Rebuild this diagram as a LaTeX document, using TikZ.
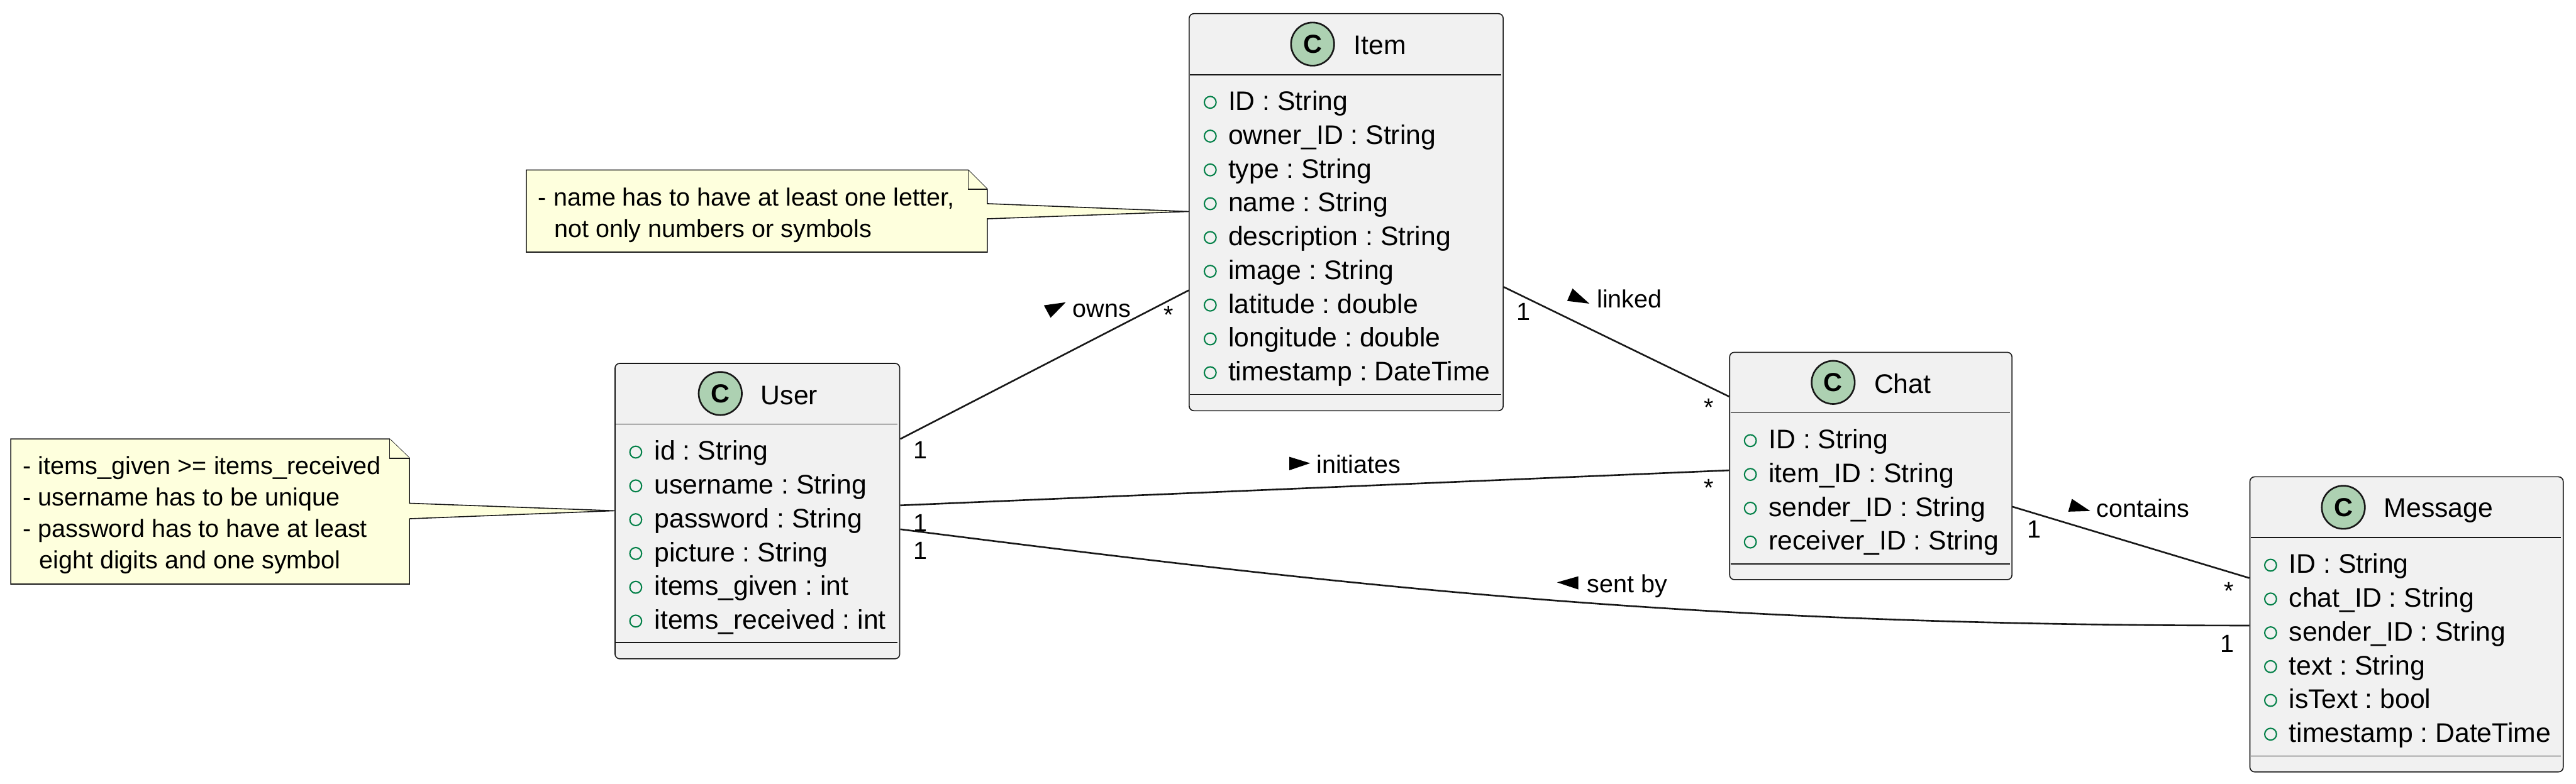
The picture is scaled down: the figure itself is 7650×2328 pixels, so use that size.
\documentclass[tikz,border=0pt]{standalone}
\usepackage{fontspec}
\setmainfont{Liberation Sans}
\definecolor{boxfill}{HTML}{F1F1F1}
\definecolor{ink}{HTML}{181818}
\definecolor{notefill}{HTML}{FEFFDD}
\definecolor{spotfill}{HTML}{ADD1B2}
\definecolor{attrgreen}{HTML}{038048}
\newcommand{\attrfont}{\frenchspacing\fontsize{22.7}{27}\selectfont}
\newcommand{\labelfont}{\frenchspacing\fontsize{21}{25}\selectfont}
\tikzset{
  classbox/.style={draw=ink,fill=boxfill,line width=0.85pt,rounded corners=0.14cm,anchor=north west,inner sep=0pt},
  sepline/.style={draw=ink,line width=0.8pt},
  spot/.style={circle,draw=ink,fill=spotfill,line width=1.4pt,minimum size=1.28cm,inner sep=0pt,font=\bfseries\fontsize{22}{26}\selectfont},
  titletext/.style={anchor=base west,inner sep=0pt,font=\attrfont},
  attrdot/.style={circle,draw=attrgreen,line width=1.1pt,minimum size=0.35cm,inner sep=0pt},
  attrtext/.style={anchor=base west,inner sep=0pt,font=\attrfont},
  notetext/.style={anchor=base west,inner sep=0pt,font=\labelfont},
  lbl/.style={anchor=base west,inner sep=0pt,font=\labelfont},
  multi/.style={anchor=base,inner sep=0pt,font=\labelfont},
  notebody/.style={draw=ink,fill=notefill,line width=0.85pt,line join=miter},
  conn/.style={draw=ink,line width=1.4pt},
  dirmark/.style={fill=black,draw=none}
}
\newcommand{\attrlist}[5]{%
  \foreach \t [count=\i from 0] in {#5}{%
    \pgfmathsetmacro\by{#4+100.4*\i}
    \node[attrdot] (#1d\i) at (#2,\by-22) {};
    \node[attrtext] (#1t\i) at (#3,\by+2) {\t};
  }}
\begin{document}
\begin{tikzpicture}[x=0.01cm,y=-0.01cm]
\useasboundingbox (0,0) rectangle (7650,2328);

% classes
\node[classbox,minimum width=8.45cm,minimum height=8.77cm] (user) at (1825,1078) {};
\draw[sepline] (1829,1260) -- (2666,1260);
\draw[sepline] (1829,1909) -- (2666,1909);
\node[spot] (userC) at (2139,1169) {C};
\node[titletext] (userT) at (2259,1201) {User};
\attrlist{user}{1888}{1943}{1365}{id : String,username : String,password : String,picture : String,items\_given : int,items\_received : int}

\node[classbox,minimum width=9.32cm,minimum height=11.79cm] (item) at (3530,39) {};
\draw[sepline] (3534,222) -- (4458,222);
\draw[sepline] (3534,1172) -- (4458,1172);
\node[spot] (itemC) at (3898,131) {C};
\node[titletext] (itemT) at (4020,162) {Item};
\attrlist{item}{3594}{3647}{326}{ID : String,owner\_ID : String,type : String,name : String,description : String,image : String,latitude : double,longitude : double,timestamp : DateTime}

\node[classbox,minimum width=8.38cm,minimum height=6.75cm] (chat) at (5135,1045) {};
\draw[sepline] (5139,1226) -- (5969,1226);
\draw[sepline] (5139,1675) -- (5969,1675);
\node[spot] (chatC) at (5444,1136) {C};
\node[titletext] (chatT) at (5565,1168) {Chat};
\attrlist{chat}{5198}{5252}{1331}{ID : String,item\_ID : String,sender\_ID : String,receiver\_ID : String}

\node[classbox,minimum width=9.30cm,minimum height=8.76cm] (message) at (6680,1415) {};
\draw[sepline] (6684,1597) -- (7606,1597);
\draw[sepline] (6684,2246) -- (7606,2246);
\node[spot] (messageC) at (6959,1507) {C};
\node[titletext] (messageT) at (7079,1537) {Message};
\attrlist{message}{6743}{6797}{1701}{ID : String,chat\_ID : String,sender\_ID : String,text : String,isText : bool,timestamp : DateTime}

% notes
\draw[notebody] (32,1304) -- (1157,1304) -- (1216,1361) -- (1216,1495)
  -- ([yshift=-4.39cm]user.north west) -- (1216,1541) -- (1216,1735) -- (32,1735) -- cycle;
\draw[notebody] (1157,1304) -- (1157,1361) -- (1216,1361);
\node[notetext] (un1) at (68,1410) {- items\_given >= items\_received};
\node[notetext] (un2) at (68,1503) {- username has to be unique};
\node[notetext] (un3) at (68,1596) {- password has to have at least};
\node[notetext] (un4) at (116,1689) {eight digits and one symbol};

\draw[notebody] (1563,505) -- (2875,505) -- (2932,562) -- (2932,605)
  -- ([yshift=-5.89cm]item.north west) -- (2932,650) -- (2932,749) -- (1563,749) -- cycle;
\draw[notebody] (2875,505) -- (2875,562) -- (2932,562);
\node[notetext] (in1) at (1598,611) {- name has to have at least one letter,};
\node[notetext] (in2) at (1645,705) {not only numbers or symbols};

% connectors
\draw[conn] ([yshift=-2.26cm]user.north east) -- ([yshift=-8.23cm]item.north west);
\draw[conn] ([yshift=-8.13cm]item.north east) -- ([yshift=-1.33cm]chat.north west);
\draw[conn] ([yshift=-4.23cm]user.north east) -- ([yshift=-3.52cm]chat.north west);
\draw[conn] ([yshift=-4.60cm]chat.north east) -- ([yshift=-3.02cm]message.north west);
\draw[conn] ([yshift=-4.94cm]user.north east) .. controls (4000,1740) and (5000,1858) .. ([yshift=-4.43cm]message.north west);

% direction marks and labels
\fill[dirmark] (3100,907) -- (3165,898) -- (3120,944) -- cycle;
\node[lbl] (owns) at (3185,942) {owns};
\fill[dirmark] (4654,894) -- (4670,857) -- (4720,902) -- cycle;
\node[lbl] (linked) at (4742,915) {linked};
\fill[dirmark] (3829,1357) -- (3891,1376) -- (3829,1397) -- cycle;
\node[lbl] (initiates) at (3909,1405) {initiates};
\fill[dirmark] (6142,1520) -- (6153,1482) -- (6207,1518) -- cycle;
\node[lbl] (contains) at (6226,1536) {contains};
\fill[dirmark] (4624,1730) -- (4687,1712) -- (4687,1751) -- cycle;
\node[lbl] (sentby) at (4713,1760) {sent by};

% multiplicities
\node[multi] (m1) at (2733,1363) {1};
\node[multi] (m2) at (2733,1580) {1};
\node[multi] (m3) at (2733,1661) {1};
\node[multi] (m4) at (3471,961) {*};
\node[multi] (m5) at (4524,951) {1};
\node[multi] (m6) at (5075,1235) {*};
\node[multi] (m7) at (5075,1475) {*};
\node[multi] (m8) at (6040,1598) {1};
\node[multi] (m9) at (6620,1781) {*};
\node[multi] (m10) at (6614,1937) {1};
\end{tikzpicture}
\end{document}
